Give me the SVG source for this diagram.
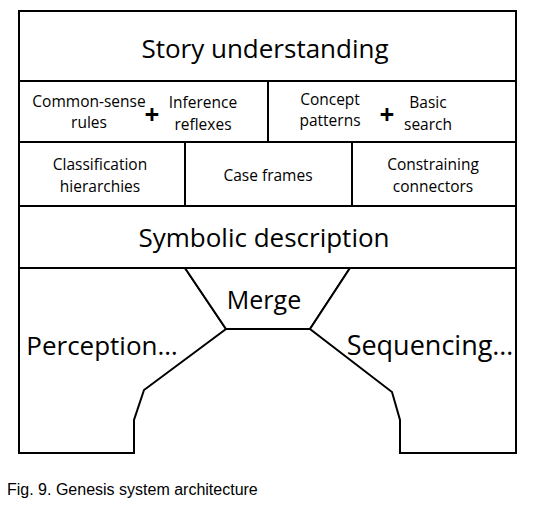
<svg xmlns="http://www.w3.org/2000/svg" width="533" height="514" viewBox="0 0 533 514">
<style>
.box{fill:#fff;stroke:#000;stroke-width:2;stroke-linejoin:miter}
.t{font-family:"Open Sans","Noto Sans",sans-serif;fill:#000;text-anchor:middle}
.big{font-size:26px}
.sm{font-size:15.5px}
.plus{font-family:"Open Sans","Noto Sans",sans-serif;font-size:26px;font-weight:bold;text-anchor:middle}
.cap{font-family:"Liberation Sans",Arial,sans-serif;font-size:16px;fill:#000}
</style>
<rect width="533" height="514" fill="#fff"/>
<g id="story">
<rect class="box" x="19" y="11" width="497" height="70"/>
<text class="t big" x="265" y="58">Story understanding</text>
</g>
<g id="commonsense">
<rect class="box" x="19" y="81" width="249" height="61"/>
<text class="t sm" x="89" y="107">Common-sense</text>
<text class="t sm" x="89" y="128">rules</text>
<text class="plus" x="152" y="124">+</text>
<text class="t sm" x="203" y="108">Inference</text>
<text class="t sm" x="203" y="130">reflexes</text>
</g>
<g id="concept">
<rect class="box" x="268" y="81" width="248" height="61"/>
<text class="t sm" x="330" y="105">Concept</text>
<text class="t sm" x="330" y="126">patterns</text>
<text class="plus" x="387" y="124">+</text>
<text class="t sm" x="428" y="108">Basic</text>
<text class="t sm" x="428" y="130">search</text>
</g>
<g id="classification">
<rect class="box" x="19" y="142" width="166" height="64"/>
<text class="t sm" x="100" y="170">Classification</text>
<text class="t sm" x="100" y="192">hierarchies</text>
</g>
<g id="caseframes">
<rect class="box" x="185" y="142" width="167" height="64"/>
<text class="t sm" x="268" y="181">Case frames</text>
</g>
<g id="constraining">
<rect class="box" x="352" y="142" width="164" height="64"/>
<text class="t sm" x="433" y="170">Constraining</text>
<text class="t sm" x="433" y="192">connectors</text>
</g>
<g id="symbolic">
<rect class="box" x="19" y="206" width="497" height="62"/>
<text class="t big" x="264" y="247">Symbolic description</text>
</g>
<g id="perception">
<polygon class="box" points="19,268 185,268 226,329 144,390 134,420 134,453 19,453"/>
<text class="t big" x="102" y="355">Perception…</text>
</g>
<g id="merge">
<polygon class="box" points="185,268 350,268 310,329 226,329"/>
<text class="t" style="font-size:25px" x="264" y="309">Merge</text>
</g>
<g id="sequencing">
<polygon class="box" points="350,268 516,268 516,453 400,453 400,420 392,392 310,329"/>
<text class="t" style="font-size:27px" x="430" y="355">Sequencing…</text>
</g>
<g id="connectors"/>
<text class="cap" x="7" y="495">Fig. 9. Genesis system architecture</text>
</svg>
